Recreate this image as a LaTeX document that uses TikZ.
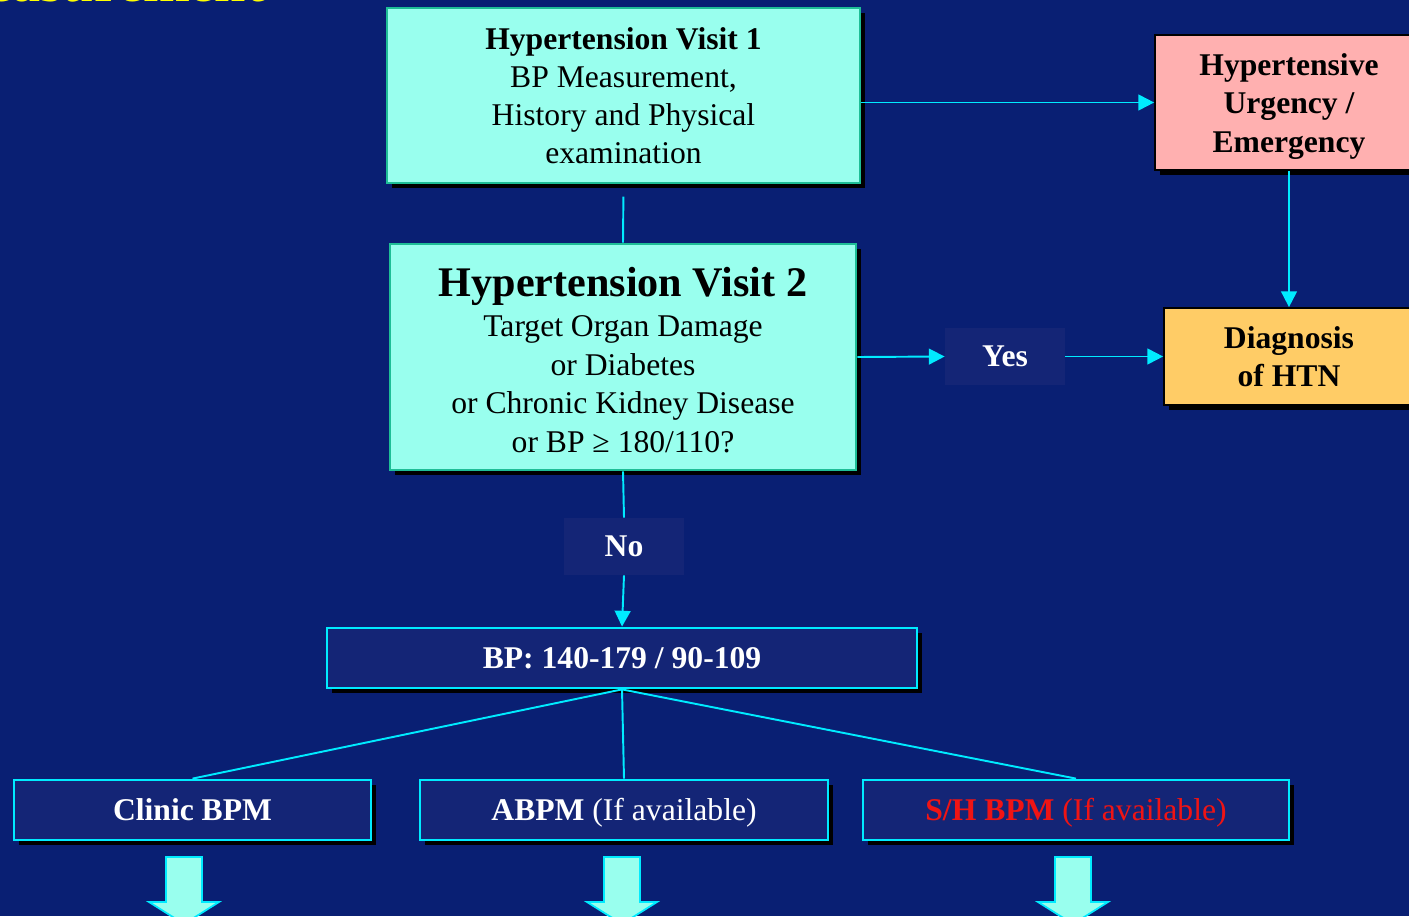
\documentclass[tikz,border=0pt]{standalone}
\usepackage{fontspec}
\setmainfont{Liberation Serif}
\usepackage{tikz}
\usetikzlibrary{arrows.meta,shadows}
\definecolor{bgblue}{RGB}{9,31,115}
\definecolor{boxblue}{RGB}{20,37,118}
\definecolor{aqua}{RGB}{153,255,238}
\definecolor{visitedge}{RGB}{30,190,150}
\definecolor{linecyan}{RGB}{0,235,255}
\definecolor{urgpink}{RGB}{255,176,176}
\definecolor{diagorange}{RGB}{255,204,102}
\definecolor{shred}{RGB}{240,20,20}
\definecolor{titleyellow}{RGB}{255,255,0}
\newcommand{\basesize}{\fontsize{18}{21.6}\selectfont}
\tikzstyle{boxshadow}=[drop shadow={fill=black,opacity=1,shadow xshift=0.1cm,shadow yshift=-0.1cm}]
\tikzstyle{visit}=[draw=visitedge,line width=1.6pt,fill=aqua,align=center,font=\basesize,boxshadow]
\tikzstyle{result}=[draw=black,line width=1pt,align=center,font=\basesize\bfseries,boxshadow]
\tikzstyle{level}=[draw=linecyan,line width=1.6pt,fill=boxblue,text=white,font=\basesize,minimum height=1.2cm,text height=12pt,text depth=0pt,boxshadow]
\tikzstyle{answer}=[fill=boxblue,text=white,font=\basesize\bfseries,minimum width=2.4cm,minimum height=1.14cm]
\tikzstyle{conn}=[linecyan,line width=1.1pt]
\tikzstyle{flow}=[conn,-{Triangle[length=9pt,width=9pt]}]
\begin{document}
\begin{tikzpicture}[x=0.02cm,y=-0.02cm]
\useasboundingbox (0,0) rectangle (1409,916);
\clip (0,0) rectangle (1409,916);
\fill[bgblue] (0,0) rectangle (1409,916);

\node[anchor=base east,text=titleyellow,font=\fontsize{32}{38}\selectfont\bfseries] (heading) at (271,2) {Measurement};

\node[visit,minimum width=9.46cm,minimum height=3.5cm] (v1) at (623.5,95.5)
  {\textbf{Hypertension Visit 1}\\BP Measurement,\\History and Physical\\examination};
\node[visit,minimum width=9.32cm,minimum height=4.52cm] (v2) at (623,357)
  {\rule{0pt}{20pt}{\fontsize{24}{28}\selectfont\bfseries Hypertension Visit 2}\\[1.5pt]Target Organ Damage\\[0.3pt]or Diabetes\\[0.3pt]or Chronic Kidney Disease\\[0.3pt]or BP ≥ 180/110?};
\node[result,fill=urgpink,minimum width=5.36cm,minimum height=2.7cm] (urg) at (1289,102.5)
  {\rule{0pt}{17pt}Hypertensive\\[0.5pt]Urgency /\\[0.5pt]Emergency};
\node[result,fill=diagorange,minimum width=5cm,minimum height=1.94cm] (diag) at (1289,356.5)
  {Diagnosis\\of HTN};
\node[answer] (yes) at (1005,356.5) {Yes};
\node[answer] (no) at (624,546.5) {No};
\node[level,font=\basesize\bfseries,minimum width=11.8cm] (bp) at (622,658) {BP: 140-179 / 90-109};
\node[level,minimum width=7.14cm] (clinic) at (192.5,810) {\textbf{Clinic BPM}};
\node[level,minimum width=8.16cm] (abpm) at (624,810) {\textbf{ABPM} (If available)};
\node[level,text=shred,minimum width=8.52cm] (shbpm) at (1076,810) {\textbf{S/H BPM} (If available)};

\draw[flow] (urg.west -| v1.east) -- (urg.west);
\draw[flow] (urg.south) -- (diag.north);
\draw[conn,shorten <=7pt] (v1.south) -- (v2.north);
\draw[flow] (v2.east) -- (yes.west);
\draw[flow] (yes.east) -- (diag.west);
\draw[conn] (v2.south) -- (no.north);
\draw[flow] (no.south) -- (bp.north);
\draw[conn] (bp.south) -- (clinic.north);
\draw[conn] (bp.south) -- (abpm.north);
\draw[conn] (bp.south) -- (shbpm.north);

\foreach \ax in {184,622,1073}
  \draw[linecyan,line width=1pt,fill=aqua] (\ax-18,857) -- (\ax+18,857) -- (\ax+18,902) -- (\ax+35,902)
    -- (\ax,924) -- (\ax-35,902) -- (\ax-18,902) -- cycle;
\end{tikzpicture}
\end{document}
